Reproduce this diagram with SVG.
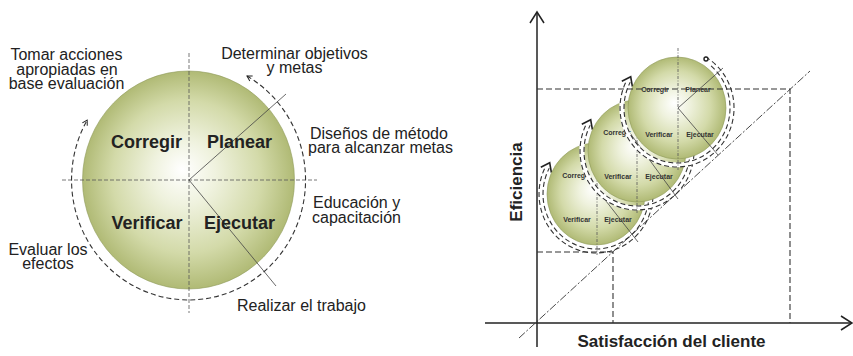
<svg xmlns="http://www.w3.org/2000/svg" width="853" height="356" viewBox="0 0 853 356">
<defs>
<radialGradient id="g" cx="0.5" cy="0.5" r="0.5" fx="0.47" fy="0.45">
<stop offset="0" stop-color="#ffffff"/>
<stop offset="0.3" stop-color="#eff2de"/>
<stop offset="0.7" stop-color="#d3daa9"/>
<stop offset="1" stop-color="#b0ba75"/>
</radialGradient>
<marker id="openArrow" viewBox="0 0 10 10" refX="8" refY="5" markerWidth="7" markerHeight="7" markerUnits="userSpaceOnUse" orient="auto-start-reverse">
<path d="M1,1 L8,5 L1,9" fill="none" stroke="#222" stroke-width="1.4"/>
</marker>
</defs>
<style>
.t{font-family:"Liberation Sans",Arial,sans-serif;font-size:16px;fill:#222}
.m{text-anchor:middle}
.big{font-family:"Liberation Sans",Arial,sans-serif;font-size:18px;font-weight:bold;fill:#222;text-anchor:middle}
.sm{font-family:"Liberation Sans",Arial,sans-serif;font-size:7px;font-weight:bold;fill:#333;text-anchor:middle}
.ax{font-family:"Liberation Sans",Arial,sans-serif;font-size:17px;font-weight:bold;fill:#222;text-anchor:middle}
.disc{fill:url(#g);stroke:#8f9a5a;stroke-width:0.6}
.guide{stroke:#555;stroke-width:0.8;stroke-dasharray:4 2;fill:none}
.dotv{stroke:#555;stroke-width:0.8;stroke-dasharray:3 1.5 1 1.5;fill:none}
.ray{stroke:#444;stroke-width:0.8;fill:none}
.ring{fill:none;stroke:#333;stroke-width:1.1;stroke-dasharray:5 3}
.band{fill:none;stroke:#fff;stroke-width:5}
.hook{fill:none;stroke:#222;stroke-width:1.6}
.grid{stroke:#333;stroke-width:1.1;stroke-dasharray:6 3;fill:none}
.axis{stroke:#222;stroke-width:1.5;fill:none}
.diag{stroke:#333;stroke-width:0.9;stroke-dasharray:8 2 2 2;fill:none}
</style>

<!-- LEFT: PDCA circle -->
<g id="pdca-circle">
<ellipse class="disc" cx="188.5" cy="180" rx="106" ry="109"/>
<line class="guide" x1="62" y1="180" x2="317" y2="180"/>
<line class="guide" x1="189" y1="53" x2="189" y2="313"/>
<line class="ray" x1="189" y1="180" x2="286" y2="94"/>
<line class="ray" x1="189" y1="180" x2="276" y2="286"/>
<text class="big" x="146.5" y="148">Corregir</text>
<text class="big" x="239.5" y="148">Planear</text>
<text class="big" x="147" y="229">Verificar</text>
<text class="big" x="239.5" y="229">Ejecutar</text>
</g>
<g id="connectors-left">
<path class="ring" d="M 247 76 A 117 120 0 1 1 87.2 120" marker-start="url(#openArrow)" marker-end="url(#openArrow)"/>
</g>
<g id="left-labels">
<text class="t m" x="66.5" y="60">Tomar acciones</text>
<text class="t m" x="67" y="75">apropiadas en</text>
<text class="t m" x="66.5" y="89">base evaluación</text>
<text class="t m" x="294.5" y="58.5">Determinar objetivos</text>
<text class="t m" x="294.5" y="73">y metas</text>
<text class="t" x="310" y="139">Diseños de método</text>
<text class="t" x="308" y="153">para alcanzar metas</text>
<text class="t" x="313" y="208">Educación y</text>
<text class="t" x="312" y="223">capacitación</text>
<text class="t m" x="48" y="255">Evaluar los</text>
<text class="t m" x="48" y="269">efectos</text>
<text class="t" x="237" y="310.5">Realizar el trabajo</text>
</g>

<!-- RIGHT: chart -->
<g id="axes">
<line class="axis" x1="537" y1="12" x2="537" y2="347"/>
<polyline class="axis" points="530,23 537,12 544,23"/>
<line class="axis" x1="485" y1="323" x2="852" y2="323"/>
<polyline class="axis" points="841,316 852,323 841,330"/>
<text class="ax" transform="translate(522,182) rotate(-90)">Eficiencia</text>
<text class="ax" x="671.5" y="347">Satisfacción del cliente</text>
</g>

<g id="cycle-1" transform="translate(596,194)">
<path class="band" d="M 31.5 -46.7 A 55 57 0 1 1 -48.6 -26.8"/>
<path class="ring" d="M 34.1 -42.1 A 53 55 0 1 1 -46.8 -25.8"/>
<path class="ring" d="M 28.5 -51.1 A 57 59 0 1 1 -50.3 -27.7"/>
<polyline class="hook" points="-55.2,-26.8 -46.3,-31.2 -44.6,-21.4"/>
<ellipse class="disc" cx="0" cy="0" rx="49" ry="51"/>
<line class="dotv" x1="1" y1="-60" x2="1" y2="61"/>
<line class="ray" x1="-8" y1="-16" x2="42" y2="48"/>
<text class="sm" x="-20" y="-16">Corregir</text>
<text class="sm" x="-19" y="28">Verificar</text>
<text class="sm" x="22" y="28">Ejecutar</text>
</g>

<g id="cycle-2" transform="translate(637,151)">
<path class="band" d="M 31.5 -46.7 A 55 57 0 1 1 -48.6 -26.8"/>
<path class="ring" d="M 34.1 -42.1 A 53 55 0 1 1 -46.8 -25.8"/>
<path class="ring" d="M 28.5 -51.1 A 57 59 0 1 1 -50.3 -27.7"/>
<polyline class="hook" points="-55.2,-26.8 -46.3,-31.2 -44.6,-21.4"/>
<ellipse class="disc" cx="0" cy="0" rx="49" ry="51"/>
<line class="dotv" x1="0" y1="-60" x2="0" y2="62"/>
<line class="ray" x1="-10" y1="-22" x2="41" y2="48"/>
<text class="sm" x="-20" y="-16">Corregir</text>
<text class="sm" x="-19" y="28">Verificar</text>
<text class="sm" x="22" y="28">Ejecutar</text>
</g>

<g id="cycle-3" transform="translate(677,108)">
<path class="band" d="M 31.5 -46.7 A 55 57 0 1 1 -48.6 -26.8"/>
<path class="ring" d="M 34.1 -42.1 A 53 55 0 1 1 -46.8 -25.8"/>
<path class="ring" d="M 28.5 -51.1 A 57 59 0 1 1 -50.3 -27.7"/>
<polyline class="hook" points="-55.2,-26.8 -46.3,-31.2 -44.6,-21.4"/>
<circle cx="29" cy="-49" r="2" fill="#fff" stroke="#222" stroke-width="1.4"/>
<ellipse class="disc" cx="0" cy="0" rx="49" ry="51"/>
<line class="dotv" x1="1" y1="-60" x2="1" y2="62"/>
<line class="ray" x1="1" y1="0" x2="46" y2="-40"/>
<line class="ray" x1="1" y1="0" x2="41" y2="47"/>
<text class="sm" x="-22" y="-16">Corregir</text>
<text class="sm" x="21" y="-16">Planear</text>
<text class="sm" x="-18" y="29">Verificar</text>
<text class="sm" x="23" y="29">Ejecutar</text>
</g>

<g id="connectors-right">
<polyline class="grid" points="537,89 790,89 790,323"/>
<polyline class="grid" points="537,252 613,252 613,323"/>
<line class="diag" x1="519" y1="338" x2="810" y2="71"/>
</g>
</svg>
